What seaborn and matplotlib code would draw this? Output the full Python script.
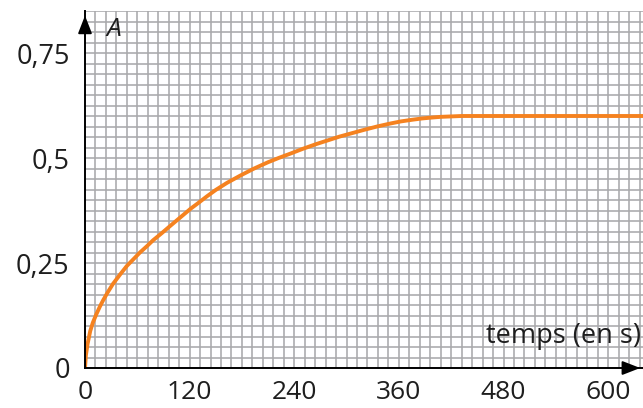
import numpy as np
import pandas as pd
import matplotlib
matplotlib.use("Agg")
import matplotlib.pyplot as plt
import seaborn as sns

# data
temps = [0, 1, 3, 6, 9, 13, 17, 21, 26, 32, 40, 48, 56, 63, 71, 78, 88, 97,
         105, 113, 121, 130, 140, 150, 163, 178, 193, 210, 222, 235, 250, 265,
         280, 292, 306, 320, 335, 350, 362, 375, 386, 396, 408, 420, 432, 442,
         455, 480, 520, 560, 600, 640]
absorbance = [0, 0.03, 0.058, 0.088, 0.108, 0.128, 0.146, 0.162, 0.18, 0.2,
              0.222, 0.243, 0.26, 0.275, 0.29, 0.304, 0.321, 0.337, 0.351,
              0.365, 0.379, 0.393, 0.409, 0.424, 0.441, 0.458, 0.474, 0.49,
              0.5, 0.51, 0.522, 0.533, 0.543, 0.551, 0.559, 0.567, 0.575,
              0.582, 0.587, 0.591, 0.594, 0.596, 0.598, 0.599, 0.6, 0.6, 0.6,
              0.6, 0.6, 0.6, 0.6, 0.6]
x_ticks = [0, 120, 240, 360, 480, 600]
y_ticks = [0, 0.25, 0.5, 0.75]
y_labels = ["0", "0,25", "0,5", "0,75"]
x_label = "temps (en s)"
y_label = "A"

sns.set_theme(style="white")
plt.rcParams["font.family"] = ["Open Sans", "DejaVu Sans"]

fig = plt.figure(figsize=(6.43, 4.08), dpi=100)
ax = fig.add_axes([85 / 643, 40 / 408, 558 / 643, 357 / 408])

df = pd.DataFrame({"t": temps, "A": absorbance})
sns.lineplot(data=df, x="t", y="A", ax=ax, color="#f5821f", linewidth=2.8,
             zorder=3)

ax.set_xlim(0, 640)
ax.set_ylim(0, 0.85)
ax.set_xticks(x_ticks)
ax.set_xticklabels([str(v) for v in x_ticks])
ax.set_yticks(y_ticks)
ax.set_yticklabels(y_labels)
ax.set_xticks(np.arange(0, 641, 12), minor=True)
ax.set_yticks(np.arange(0, 0.851, 0.025), minor=True)
ax.grid(which="both", color="#a9a9ab", linewidth=1.15)
ax.tick_params(which="minor", length=0)
ax.tick_params(axis="y", which="major", direction="out", length=8, width=1.1,
               color="black", labelsize=19.5, pad=3, labelcolor="#1e1e1e")
ax.tick_params(axis="x", which="major", direction="out", length=7, width=1.1,
               color="black", labelsize=19, pad=1.5, labelcolor="#1e1e1e")
ax.set_xlabel("")
ax.set_ylabel("")
for s in ["top", "right"]:
    ax.spines[s].set_visible(False)
for s in ["left", "bottom"]:
    ax.spines[s].set_color("black")
    ax.spines[s].set_linewidth(1.4)
    ax.spines[s].set_zorder(4)

# arrows on axes
ax.annotate("", xy=(1.0, 0), xycoords="axes fraction", xytext=(0.97, 0),
            arrowprops=dict(arrowstyle="-|>,head_length=0.9,head_width=0.35",
                            color="black", lw=1.4), zorder=5)
ax.annotate("", xy=(0, 0.995), xycoords="axes fraction", xytext=(0, 0.95),
            arrowprops=dict(arrowstyle="-|>,head_length=0.9,head_width=0.35",
                            color="black", lw=1.4), zorder=5)

ax.text(25, 0.805, y_label, fontsize=19, fontstyle="italic", color="#1e1e1e",
        ha="left", va="center")
ax.text(638, 0.075, x_label, fontsize=19.5, color="#1e1e1e", ha="right",
        va="center")

fig.savefig("out.png", dpi=100)
